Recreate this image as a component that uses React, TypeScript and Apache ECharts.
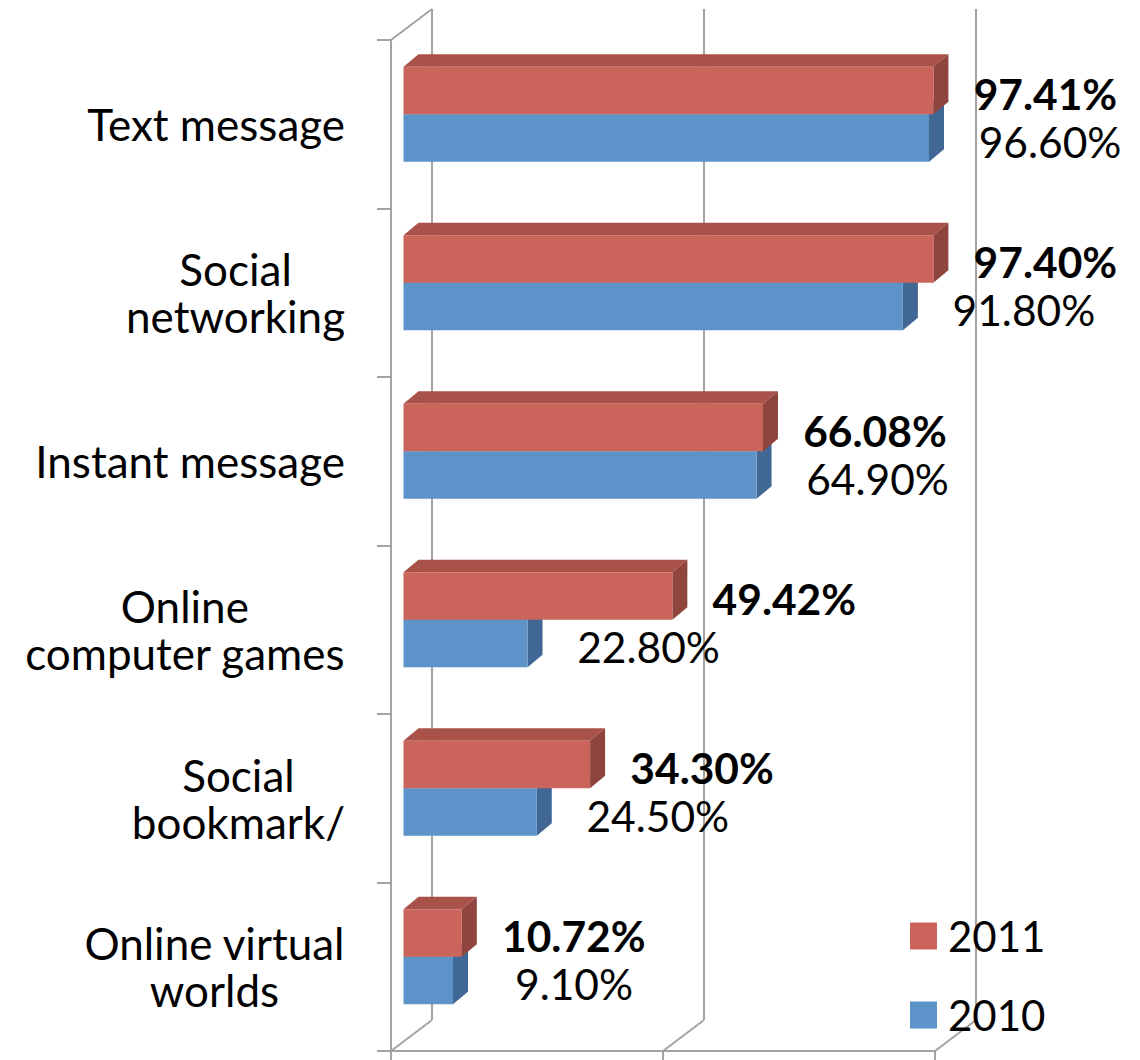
import React, { useEffect, useRef } from 'react';
import * as echarts from 'echarts';

// ---- data ----
const categories = [
  'Text message',
  'Social\nnetworking',
  'Instant message',
  'Online\ncomputer games',
  'Social\nbookmark/',
  'Online virtual\nworlds',
];
const values2011 = [97.41, 97.4, 66.08, 49.42, 34.3, 10.72];
const values2010 = [96.6, 91.8, 64.9, 22.8, 24.5, 9.1];
const legendNames = ['2011', '2010'];
const xTicks = [0, 50, 100];

// ---- style / layout constants ----
const FONT = 'Lato';
const AXIS_COLOR = '#a3a3a3';
const PLOT_W = 544;
const PLOT_H = 1011;
const FRONT = { left: 391, top: 40 };
const BARPLANE = { left: 403.5, top: 30 };
const BACK = { left: 432, top: 9 };
const BACK_DX = BACK.left - FRONT.left;
const BACK_DY = BACK.top - FRONT.top;
const DX = 15;
const DY = 12.5;
const BAR_FRAC = 0.282;
const CAT_FONT = 44;
const VAL_FONT = 42.5;

const RED = { front: '#cb655b', top: '#a8524a', side: '#8f443e' };
const BLUE = { front: '#5d93c9', top: '#4a77a5', side: '#416894' };

function makeBars(name: string, values: number[], c: any, upper: boolean, bold: boolean, labelDx: number) {
  return {
    type: 'custom',
    name,
    xAxisIndex: 1,
    yAxisIndex: 1,
    data: values.map((v, i) => [v, i]),
    encode: { x: 0, y: 1 },
    itemStyle: { color: c.front },
    renderItem: (params: any, api: any) => {
      const v = api.value(0);
      const i = api.value(1);
      const s = api.coord([0, i]);
      const e = api.coord([v, i]);
      const band = api.size([0, 1])[1];
      const h = band * BAR_FRAC;
      const y0 = upper ? s[1] - h : s[1];
      const y1 = y0 + h;
      const x0 = s[0];
      const x1 = e[0];
      return {
        type: 'group',
        children: [
          {
            type: 'polygon',
            shape: { points: [[x0, y0], [x0 + DX, y0 - DY], [x1 + DX, y0 - DY], [x1, y0]] },
            style: { fill: c.top },
          },
          {
            type: 'polygon',
            shape: { points: [[x1, y0], [x1 + DX, y0 - DY], [x1 + DX, y1 - DY], [x1, y1]] },
            style: { fill: c.side },
          },
          {
            type: 'rect',
            shape: { x: x0, y: y0, width: x1 - x0, height: h },
            style: { fill: c.front },
          },
          {
            type: 'text',
            x: x1 + labelDx,
            y: (y0 + y1) / 2 + 3,
            style: {
              text: v.toFixed(2) + '%',
              fontFamily: FONT,
              fontSize: VAL_FONT,
              fontWeight: bold ? 'bold' : 'normal',
              fill: '#000',
              align: 'center',
              verticalAlign: 'middle',
            },
          },
        ],
      };
    },
  };
}

export default function App() {
  const ref = useRef<HTMLDivElement>(null);
  useEffect(() => {
    if (!ref.current) return;
    const chart = echarts.init(ref.current, undefined, { renderer: 'svg' });
    const lineStyle = { color: AXIS_COLOR, width: 2 };
    const option: any = {
      animation: false,
      backgroundColor: '#fff',
      textStyle: { fontFamily: FONT },
      grid: [
        { left: FRONT.left, top: FRONT.top, width: PLOT_W, height: PLOT_H },
        { left: BARPLANE.left, top: BARPLANE.top, width: PLOT_W, height: PLOT_H },
        { left: BACK.left, top: BACK.top, width: PLOT_W, height: PLOT_H },
      ],
      xAxis: [
        {
          gridIndex: 0, type: 'value', min: 0, max: 100, interval: 50,
          axisLine: { show: true, lineStyle },
          axisTick: { show: true, length: 9, lineStyle },
          axisLabel: { show: false },
          splitLine: { show: false },
        },
        { gridIndex: 1, type: 'value', min: 0, max: 100, show: false, splitLine: { show: false } },
        {
          gridIndex: 2, type: 'value', min: 0, max: 100, interval: 50,
          axisLine: { show: false }, axisTick: { show: false }, axisLabel: { show: false },
          splitLine: { show: true, lineStyle },
        },
      ],
      yAxis: [
        {
          gridIndex: 0, type: 'category', data: categories, inverse: true,
          axisLine: { show: true, lineStyle },
          axisTick: { show: true, length: 14, lineStyle },
          splitLine: { show: false },
          axisLabel: {
            interval: 0,
            margin: 46,
            align: 'right',
            fontFamily: FONT,
            fontSize: CAT_FONT,
            color: '#000',
            lineHeight: 47,
            formatter: (v: string) => v.split('\n').map((l) => `{c|${l}}`).join('\n'),
            rich: { c: { align: 'center', fontFamily: FONT, fontSize: CAT_FONT, color: '#000', lineHeight: 47 } },
          },
        },
        { gridIndex: 1, type: 'category', data: categories, inverse: true, show: false },
        { gridIndex: 2, type: 'category', data: categories, inverse: true, show: false },
      ],
      legend: {
        data: legendNames,
        orient: 'vertical',
        left: 905,
        top: 910,
        padding: 5,
        itemWidth: 27,
        itemHeight: 27,
        itemGap: 37,
        icon: 'rect',
        textStyle: { fontFamily: FONT, fontSize: 42, color: '#000', lineHeight: 27, padding: [9, 0, 0, 6] },
      },
      series: [
        {
          type: 'custom',
          name: 'frame',
          xAxisIndex: 0,
          yAxisIndex: 0,
          silent: true,
          data: xTicks.map((v) => [v, 0]),
          encode: { x: 0, y: 1 },
          renderItem: (params: any, api: any) => {
            const cs = params.coordSys;
            const v = api.value(0);
            const x = api.coord([v, 0])[0];
            const bottom = cs.y + cs.height;
            const st = { stroke: AXIS_COLOR, lineWidth: 2 };
            const children: any[] = [
              { type: 'line', shape: { x1: x, y1: bottom, x2: x + BACK_DX, y2: bottom + BACK_DY }, style: st },
            ];
            if (v === xTicks[0]) {
              children.push({ type: 'line', shape: { x1: x, y1: cs.y, x2: x + BACK_DX, y2: cs.y + BACK_DY }, style: st });
            }
            return { type: 'group', children };
          },
        },
        makeBars('2010', values2010, BLUE, false, false, 121),
        makeBars('2011', values2011, RED, true, true, 112),
      ],
    };
    chart.setOption(option);
    return () => chart.dispose();
  }, []);
  return <div ref={ref} style={{ position: 'absolute', left: 0, top: 0, width: 1140, height: 1060 }} />;
}
